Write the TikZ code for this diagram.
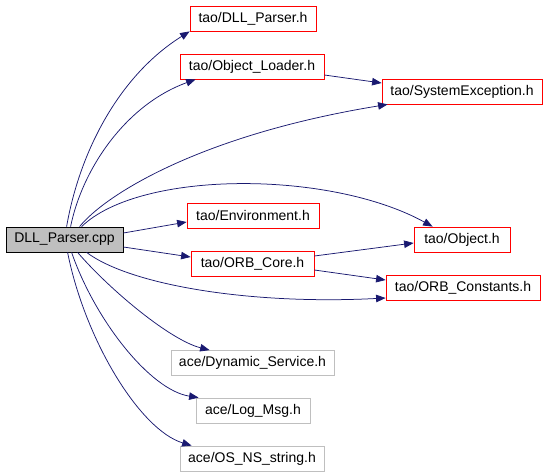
\documentclass[tikz,border=0pt]{standalone}
\usepackage{fontspec}
\setmainfont{Liberation Sans}
\usetikzlibrary{arrows.meta,calc}
\definecolor{edgeblue}{HTML}{191970}
\definecolor{boxgray}{HTML}{BFBFBF}
\begin{document}
\begin{tikzpicture}[x=1pt,y=-1pt,
  base/.style={draw,line width=0.8pt,minimum height=25pt,inner sep=0pt,font=\fontsize{14}{16}\selectfont},
  redbox/.style={base,draw=red},
  graybox/.style={base,draw=boxgray},
  mainbox/.style={base,draw=black,fill=boxgray},
  dep/.style={draw=edgeblue,line width=0.75pt,-{Triangle[length=9.5pt,width=7.5pt]},fill=none}]
\useasboundingbox (0,0) rectangle (547,475);
\node[mainbox,minimum width=117pt] (cpp) at (64.5,239.5) {DLL\_Parser.cpp};
\node[redbox,minimum width=126pt] (dllh) at (253,18.5) {tao/DLL\_Parser.h};
\node[redbox,minimum width=144pt] (ol) at (252,66.5) {tao/Object\_Loader.h};
\node[redbox,minimum width=160pt] (se) at (462,91.5) {tao/SystemException.h};
\node[redbox,minimum width=132pt] (env) at (253,215.5) {tao/Environment.h};
\node[redbox,minimum width=96pt] (obj) at (462,239.5) {tao/Object.h};
\node[redbox,minimum width=123pt] (core) at (252.5,263.5) {tao/ORB\_Core.h};
\node[redbox,minimum width=154pt] (const) at (463,287.5) {tao/ORB\_Constants.h};
\node[graybox,minimum width=163pt] (dyn) at (252.5,363) {ace/Dynamic\_Service.h};
\node[graybox,minimum width=114pt] (log) at (253,410.5) {ace/Log\_Msg.h};
\node[graybox,minimum width=144pt] (os) at (252,458.5) {ace/OS\_NS\_string.h};
% edges from cpp
\draw[dep] ($(cpp.north west)+(61,0)$) .. controls (80,150) and (120,75) .. (dllh.south west);
\draw[dep] ($(cpp.north west)+(65,0)$) .. controls (82,170) and (125,105) .. ($(ol.south west)+(16,0)$);
\draw[dep] ($(cpp.north west)+(74,0)$) .. controls (105,195) and (200,135) .. ($(se.south west)+(6,0)$);
\draw[dep] ($(cpp.north west)+(76,0)$) .. controls (140,170) and (330,170) .. ($(obj.north west)+(19,0)$);
\draw[dep] ($(cpp.east)+(0,-6.5)$) -- ($(env.west)+(0,6.5)$);
\draw[dep] ($(cpp.east)+(0,7.5)$) -- ($(core.west)+(0,-6.5)$);
\draw[dep] ($(cpp.south west)+(81,0)$) .. controls (130,285) and (250,305) .. ($(const.west)+(0,10.5)$);
\draw[dep] ($(cpp.south west)+(72,0)$) .. controls (110,290) and (170,340) .. ($(dyn.north west)+(39,0)$);
\draw[dep] ($(cpp.south west)+(66,0)$) .. controls (95,320) and (150,390) .. ($(log.north west)+(3,0)$);
\draw[dep] ($(cpp.south west)+(62,0)$) .. controls (85,340) and (140,430) .. ($(os.north west)+(12,0)$);
% other edges
\draw[dep] ($(ol.east)+(0,8.5)$) -- ($(se.west)+(0,-8.5)$);
\draw[dep] ($(core.east)+(0,-7.5)$) -- ($(obj.west)+(0,3.5)$);
\draw[dep] ($(core.east)+(0,6.5)$) -- ($(const.west)+(0,-7.5)$);
\end{tikzpicture}
\end{document}
